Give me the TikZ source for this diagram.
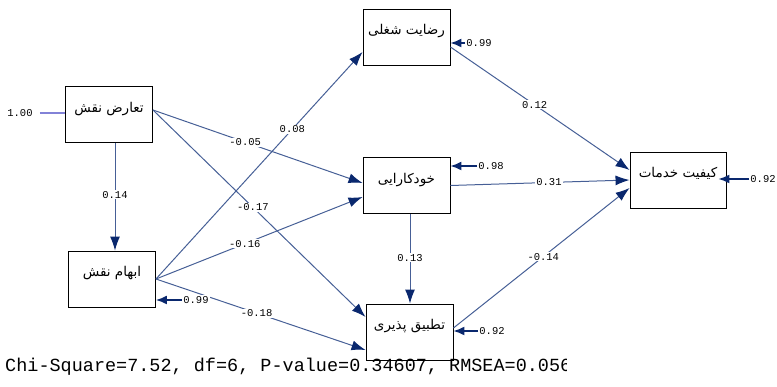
\documentclass[tikz,border=0pt]{standalone}
\usepackage{fontspec}
\setmonofont{Liberation Mono}
\newfontfamily\farsi[Script=Arabic]{DejaVu Sans}
\TeXXeTstate=1
\usetikzlibrary{arrows.meta}

\definecolor{pathblue}{RGB}{70,95,150}
\definecolor{tipnavy}{RGB}{10,40,110}
\definecolor{errpurple}{RGB}{130,130,215}

\tikzset{
  var/.style={draw=black,line width=0.9pt,minimum width=87pt,minimum height=56pt,
    inner sep=0pt,text height=10pt,text depth=14pt,font=\farsi\fontsize{13.5}{15}\selectfont},
  coef/.style={fill=white,inner sep=1pt,font=\ttfamily\fontsize{10.5}{12}\selectfont},
  effect/.style={draw=pathblue,line width=1pt,-{Latex[length=14pt,width=10pt,color=tipnavy]}},
  err/.style={draw=tipnavy,line width=1.5pt,-{Latex[length=11pt,width=9pt]}}
}

\begin{document}
\begin{tikzpicture}[x=1pt,y=-1pt]
    \useasboundingbox (0,0) rectangle (777,387);

    % variables
    \node[var] (taaroz) at (109,114.5) {\beginR تعارض نقش\endR};
    \node[var] (ebham) at (112,279) {\beginR ابهام نقش\endR};
    \node[var] (rezayat) at (406.5,37) {\beginR رضایت شغلی\endR};
    \node[var] (khodkar) at (406.5,185.5) {\beginR خودکارایی\endR};
    \node[var] (tatbigh) at (409.5,332) {\beginR تطبیق پذیری\endR};
    \node[var,minimum width=96pt] (keyfiat) at (678,180) {\beginR کیفیت خدمات\endR};

    % paths
    \draw[effect] ([yshift=4.5pt]taaroz.east) -- ([yshift=2.5pt]khodkar.west)
        node[coef,pos=0.44] {-0.05};
    \draw[effect] ([yshift=4.5pt]taaroz.east) -- ([yshift=15pt]tatbigh.west)
        node[coef,pos=0.47] {-0.17};
    \draw[effect] ([xshift=6pt]taaroz.south) -- ([xshift=3pt]ebham.north)
        node[coef,pos=0.48] {0.14};
    \draw[effect] (ebham.east) -- ([yshift=-15pt]rezayat.west)
        node[coef,pos=0.66] {0.08};
    \draw[effect] (ebham.east) -- ([yshift=-11.5pt]khodkar.west)
        node[coef,pos=0.43] {-0.16};
    \draw[effect] (ebham.east) -- ([yshift=-18pt]tatbigh.west)
        node[coef,pos=0.48] {-0.18};
    \draw[effect] ([yshift=-10pt]rezayat.east) -- ([yshift=10pt]keyfiat.west)
        node[coef,pos=0.47] {0.12};
    \draw[effect] (khodkar.east) -- (keyfiat.west)
        node[coef,pos=0.55] {0.31};
    \draw[effect] ([xshift=3.5pt]khodkar.south) -- ([xshift=0.5pt]tatbigh.north)
        node[coef,pos=0.49] {0.13};
    \draw[effect] ([yshift=4pt]tatbigh.east) -- ([yshift=-8pt]keyfiat.west)
        node[coef,pos=0.51] {-0.14};

    % error terms
    \node[coef] (e-taaroz) at (20,113) {1.00};
    \draw[draw=errpurple,line width=1.3pt,shorten <=6pt] (e-taaroz) -- ([yshift=1.5pt]taaroz.west);
    \node[coef] (e-ebham) at (196,300) {0.99};
    \draw[err] (e-ebham) -- ([yshift=-21pt]ebham.east);
    \node[coef] (e-rezayat) at (479,43) {0.99};
    \draw[err] (e-rezayat) -- ([yshift=-6pt]rezayat.east);
    \node[coef] (e-khodkar) at (491,166) {0.98};
    \draw[err] (e-khodkar) -- ([yshift=19.5pt]khodkar.east);
    \node[coef] (e-tatbigh) at (492,331) {0.92};
    \draw[err] (e-tatbigh) -- ([yshift=1pt]tatbigh.east);
    \node[coef] (e-keyfiat) at (763,179) {0.92};
    \draw[err] (e-keyfiat) -- ([xshift=-8pt,yshift=1pt]keyfiat.east);

    % fit line
    \begin{scope}
        \clip (0,355) rectangle (566,387);
        \node[anchor=base west,inner sep=0pt,font=\ttfamily\fontsize{18.5}{20}\selectfont] (fit) at (5,372)
            {Chi-Square=7.52, df=6, P-value=0.34607, RMSEA=0.056};
    \end{scope}
\end{tikzpicture}
\end{document}
